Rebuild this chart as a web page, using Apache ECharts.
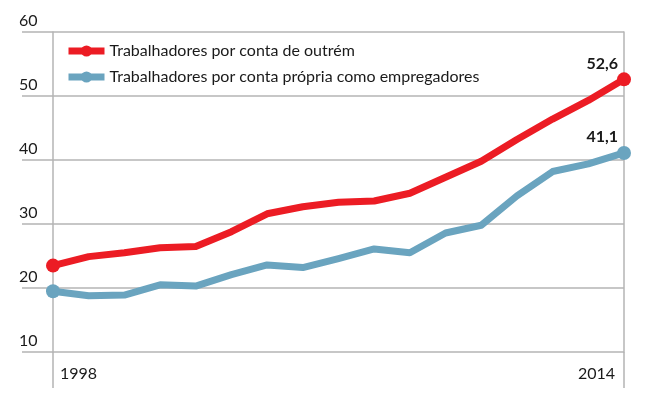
<!DOCTYPE html>
<html>
<head>
<meta charset="utf-8">
<script src="https://cdn.jsdelivr.net/npm/echarts@6/dist/echarts.min.js"></script>
<style>
  html, body { margin: 0; padding: 0; background: #fff; }
  #chart { width: 650px; height: 399px; }
</style>
</head>
<body>
<div id="chart"></div>
<script>
var anos = ['1998', '1999', '2000', '2001', '2002', '2003', '2004', '2005', '2006',
  '2007', '2008', '2009', '2010', '2011', '2012', '2013', '2014']
var outrem = [23.5, 24.9, 25.5, 26.3, 26.5, 28.8, 31.6, 32.7, 33.4, 33.6, 34.8, 37.3, 39.8, 43.2, 46.4, 49.3, 52.6]
var empregadores = [19.5, 18.8, 18.9, 20.5, 20.3, 22.1, 23.6, 23.2, 24.6, 26.1, 25.5, 28.6, 29.8, 34.4, 38.2, 39.4, 41.1]
var nomes = ['Trabalhadores por conta de outrém', 'Trabalhadores por conta própria como empregadores']
var cores = ['#ec1c24', '#6aa4bf']

var fonte = 'Lato, "Liberation Sans", sans-serif'
var cinza = '#b4b4b4'
var texto = '#1a1a1a'

function pontos (values) {
    var last = values.length - 1
    return values.map(function (v, i) {
        if (i === 0) return { value: v }
        if (i === last) {
            return {
                value: v,
                label: {
                    show: true,
                    position: 'top',
                    align: 'right',
                    offset: [-6, 3],
                    distance: 4,
                    fontFamily: fonte,
                    fontSize: 16,
                    fontWeight: 'bold',
                    color: texto,
                    formatter: function (p) { return String(p.value).replace('.', ',') }
                }
            }
        }
        return { value: v, symbol: 'none' }
    })
}

function serie (idx, values) {
    return {
        name: nomes[idx],
        type: 'line',
        data: pontos(values),
        symbol: 'circle',
        symbolSize: 14,
        showAllSymbol: true,
        itemStyle: { color: cores[idx] },
        lineStyle: { color: cores[idx], width: 7, join: 'round' },
        emphasis: { disabled: true },
        z: 3 + idx
    }
}

var myChart = echarts.init(document.getElementById('chart'))
myChart.setOption({
    animation: false,
    grid: { left: 53, right: 26, top: 32, bottom: 47 },
    legend: {
        orient: 'vertical',
        left: 60,
        top: 38,
        itemWidth: 36,
        itemHeight: 14,
        itemGap: 10,
        selectedMode: false,
        lineStyle: { width: 7 },
        textStyle: { fontFamily: fonte, fontSize: 16, color: texto },
        data: nomes
    },
    xAxis: {
        type: 'category',
        data: anos,
        boundaryGap: false,
        axisLine: { show: false },
        axisTick: {
            show: true,
            length: 36,
            interval: function (i) { return i === 0 || i === anos.length - 1 },
            lineStyle: { color: cinza, width: 1.5 }
        },
        axisLabel: {
            interval: function (i) { return i === 0 || i === anos.length - 1 },
            alignMinLabel: 'left',
            alignMaxLabel: 'right',
            padding: [0, 9, 0, 7],
            margin: 14,
            fontFamily: fonte,
            fontSize: 16,
            color: texto
        }
    },
    yAxis: [{
        type: 'value',
        min: 10,
        max: 60,
        interval: 10,
        axisLine: { show: true, lineStyle: { color: cinza, width: 1.5 } },
        axisTick: { show: true, inside: false, length: 31, lineStyle: { color: cinza, width: 1.5 } },
        splitLine: { lineStyle: { color: cinza, width: 1.5 } },
        axisLabel: {
            align: 'left',
            verticalAlign: 'bottom',
            margin: 34,
            padding: [0, 0, 3, 0],
            fontFamily: fonte,
            fontSize: 16,
            color: texto
        }
    }, {
        type: 'value',
        position: 'right',
        min: 10,
        max: 60,
        interval: 10,
        axisLine: { show: true, lineStyle: { color: cinza, width: 1.5 } },
        axisTick: { show: false },
        axisLabel: { show: false },
        splitLine: { show: false }
    }],
    series: [serie(0, outrem), serie(1, empregadores)]
})
</script>
</body>
</html>
